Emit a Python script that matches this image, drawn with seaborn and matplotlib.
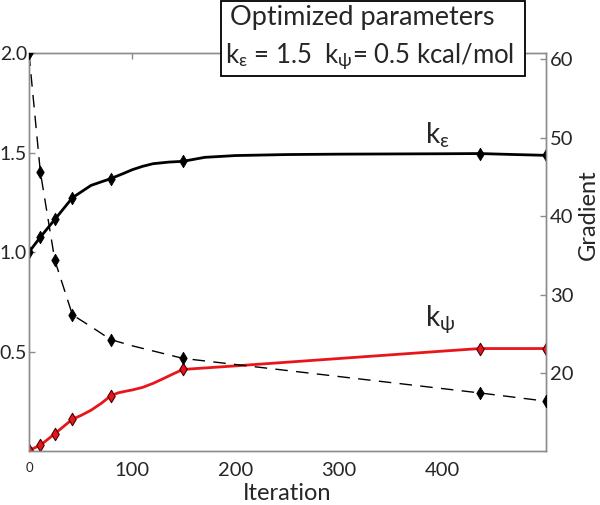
import matplotlib
matplotlib.use("Agg")
import matplotlib.pyplot as plt
import seaborn as sns
from matplotlib.patches import Rectangle

# Iterations where the optimizer reported values (diamond markers)
marker_iter = [0, 11, 25, 42, 79, 149, 436, 500]
k_eps = [1.0, 1.075, 1.164, 1.273, 1.369, 1.456, 1.495, 1.486]
k_psi = [0.003, 0.029, 0.087, 0.16, 0.277, 0.41, 0.515, 0.515]
gradient = [60.75, 45.65, 34.4, 27.45, 24.3, 21.9, 17.5, 16.45]

keps_curve_iter = [0, 11, 25, 42, 60, 79, 90, 100, 110, 120, 135, 149, 170, 200, 250,
                   300, 400, 436, 470, 500]
keps_curve = [1.0, 1.075, 1.164, 1.273, 1.335, 1.369, 1.392, 1.414, 1.431, 1.444, 1.452,
              1.456, 1.476, 1.485, 1.490, 1.492, 1.494, 1.495, 1.490, 1.486]
kpsi_curve_iter = [0, 11, 25, 42, 50, 60, 70, 79, 86, 93, 100, 110, 120, 130, 140, 149,
                   200, 300, 400, 436, 470, 500]
kpsi_curve = [0.003, 0.029, 0.087, 0.16, 0.178, 0.205, 0.24, 0.277, 0.292, 0.300, 0.307,
              0.320, 0.340, 0.364, 0.389, 0.41, 0.428, 0.465, 0.502, 0.515, 0.515, 0.515]
grad_curve_iter = [0, 11, 25, 42, 60, 79, 100, 149, 436, 500]
grad_curve = [60.75, 45.65, 34.4, 27.45, 25.95, 24.3, 23.5, 21.9, 17.5, 16.45]

x_ticks = [0, 100, 200, 300, 400]
left_ticks = [0.5, 1.0, 1.5, 2.0]
right_ticks = [20, 30, 40, 50, 60]

sns.set_style("white")
plt.rcParams["font.family"] = ["Lato", "DejaVu Sans"]
plt.rcParams["mathtext.fontset"] = "custom"
plt.rcParams["mathtext.rm"] = "Lato"
plt.rcParams["mathtext.it"] = "Lato:italic"
plt.rcParams["mathtext.sf"] = "Lato"

SPINE = "#8c8c8c"
RED = "#e8161b"

fig = plt.figure(figsize=(6, 5.05), dpi=100)
ax = fig.add_axes([0.0483, 0.1069, 0.8617, 0.788])
ax2 = ax.twinx()

# k_epsilon and k_psi on the left axis
sns.lineplot(x=keps_curve_iter, y=keps_curve, ax=ax, color="black", lw=2.0)
sns.lineplot(x=kpsi_curve_iter, y=kpsi_curve, ax=ax, color=RED, lw=2.0)
sns.scatterplot(x=marker_iter, y=k_eps, ax=ax, marker="d", s=40, color="black",
                edgecolor="black", linewidth=0.6, zorder=4)
sns.scatterplot(x=marker_iter, y=k_psi, ax=ax, marker="d", s=40, color=RED,
                edgecolor="#4a0000", linewidth=0.8, zorder=4)

# gradient on the right axis
sns.lineplot(x=grad_curve_iter, y=grad_curve, ax=ax2, color="black", lw=1.0,
             linestyle=(0, (9, 6)))
sns.scatterplot(x=marker_iter, y=gradient, ax=ax2, marker="d", s=40, color="black",
                edgecolor="black", linewidth=0.6, zorder=4)

ax.set_xlim(0, 500)
ax.set_ylim(0, 2)
ax2.set_ylim(10.1, 60.8)

ax.set_xticks(x_ticks)
ax.set_xticklabels([str(t) for t in x_ticks], fontsize=14.5)
ax.get_xticklabels()[0].set_fontsize(9.5)
ax.set_yticks(left_ticks)
ax.set_yticklabels([f"{t:.1f}" for t in left_ticks], fontsize=14)
ax2.set_yticks(right_ticks)
ax2.set_yticklabels([str(t) for t in right_ticks], fontsize=14.5)

ax.tick_params(axis="x", direction="in", length=4, width=1, color=SPINE, top=True, pad=8)
ax.tick_params(axis="y", direction="in", length=4, width=1, color=SPINE, pad=1.5)
ax2.tick_params(axis="y", direction="in", length=4, width=1, color=SPINE, pad=3)

for a in (ax, ax2):
    for sp in a.spines.values():
        sp.set_color(SPINE)
        sp.set_linewidth(1.0)
        sp.set_visible(True)

ax.set_xlabel("Iteration", fontsize=17, labelpad=3)
ax.set_ylabel("")
ax2.set_ylabel("Gradient", fontsize=17)
ax2.yaxis.set_label_coords(1.062, 0.593)

ax.text(383, 1.547, r"k$_\mathrm{ε}$", fontsize=20, ha="left", va="baseline")
ax.text(383, 0.63, r"k$_\mathrm{ψ}$", fontsize=20, ha="left", va="baseline")

# parameter box at the top
box = Rectangle((0.368, 0.8495), 0.507, 0.148, transform=fig.transFigure,
                facecolor="white", edgecolor="black", lw=1.3, zorder=5)
fig.add_artist(box)
fig.text(0.383, 0.95, "Optimized parameters", fontsize=19.5, ha="left",
         va="baseline", zorder=6)
fig.text(0.375, 0.875, r"k$_\mathrm{ε}$ = 1.5  k$_\mathrm{ψ}$= 0.5 kcal/mol",
         fontsize=18.5, ha="left", va="baseline", zorder=6)

fig.savefig("out.png", dpi=100)
